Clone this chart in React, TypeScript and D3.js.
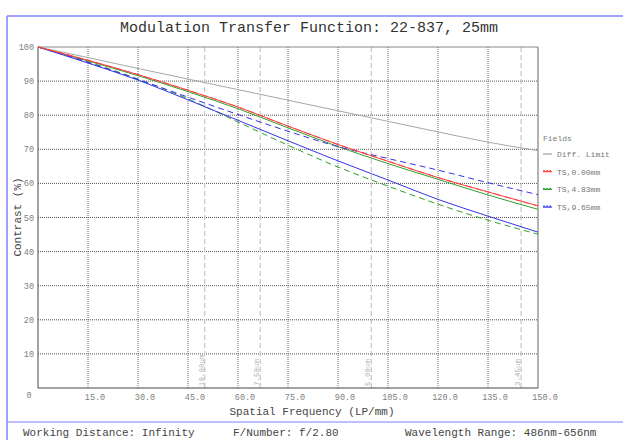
import * as d3 from "d3";

const freqs = [0, 15, 30, 45, 60, 75, 90, 105, 120, 135, 150];
const diffLimit = [100, 96.9, 93.7, 90.6, 87.5, 84.4, 81.3, 78.2, 75.1, 72.1, 69.6];
const tan000 = [100, 96.1, 91.9, 87.3, 82.4, 76.8, 71.4, 66.5, 61.7, 57.5, 53.4];
const sag000 = [100, 96.1, 91.9, 87.3, 82.4, 76.8, 71.4, 66.5, 61.7, 57.5, 53.4];
const tan483 = [100, 95.9, 91.6, 86.9, 81.9, 76.3, 70.8, 65.8, 61.2, 56.6, 52.4];
const sag483 = [100, 95.6, 90.6, 84.8, 78.0, 71.2, 64.8, 59.2, 53.9, 49.2, 45.1];
const tan965 = [100, 95.3, 90.3, 84.5, 78.5, 72.5, 66.6, 61.0, 55.3, 50.4, 45.7];
const sag965 = [100, 95.5, 90.5, 85.3, 80.2, 75.3, 70.8, 67.3, 63.9, 60.2, 56.7];

const xTicks = [15, 30, 45, 60, 75, 90, 105, 120, 135, 150];
const yTicks = [10, 20, 30, 40, 50, 60, 70, 80, 90, 100];
const nyquist = [
  { f: 50, label: "10.00um" },
  { f: 66.67, label: "7.50um" },
  { f: 100, label: "5.00um" },
  { f: 144.93, label: "3.45um" },
];
const legendItems = [
  { label: "Diff. Limit", color: "#a0a0a0" },
  { label: "TS,0.00mm", color: "#ff4040" },
  { label: "TS,4.83mm", color: "#30a030" },
  { label: "TS,9.65mm", color: "#3535e8" },
];

const FONT = "'Liberation Mono', 'DejaVu Sans Mono', monospace";

export default function App() {
  const left = 38, right = 538, top = 47, bottom = 388;
  const x = d3.scaleLinear().domain([0, 150]).range([left, right]);
  const y = d3.scaleLinear().domain([0, 100]).range([bottom, top]);

  const line = d3
    .line<number>()
    .x((_, i) => x(freqs[i]))
    .y((d) => y(d))
    .curve(d3.curveMonotoneX);

  const series = [
    { data: diffLimit, color: "#a8a8a8", dash: null },
    { data: tan483, color: "#30a030", dash: null },
    { data: sag483, color: "#30a030", dash: "6,4" },
    { data: tan965, color: "#3535e8", dash: null },
    { data: sag965, color: "#3535e8", dash: "6,4" },
    { data: tan000, color: "#ff4040", dash: null },
    { data: sag000, color: "#ff4040", dash: "6,4" },
  ];

  return (
    <svg
      width={623}
      height={440}
      style={{ position: "absolute", left: 0, top: 0, background: "#fff" }}
      fontFamily={FONT}
    >
      {/* frame */}
      <line x1={7} x2={623} y1={16} y2={16} stroke="#8080ff" strokeWidth={1.5} />
      <line x1={7} x2={7} y1={16} y2={440} stroke="#8080ff" strokeWidth={1.5} />
      <line x1={7} x2={623} y1={422} y2={422} stroke="#8080ff" strokeWidth={1.2} />

      <text x={309} y={32} textAnchor="middle" fontSize={15} fill="#333">
        Modulation Transfer Function: 22-837, 25mm
      </text>

      {/* horizontal grid */}
      {yTicks.slice(0, -1).map((t) => (
        <line key={"h" + t} x1={left} x2={right} y1={y(t)} y2={y(t)} stroke="#555" strokeDasharray="1,1" />
      ))}
      {/* vertical grid */}
      {xTicks.slice(0, -1).map((t) => (
        <line key={"v" + t} x1={x(t)} x2={x(t)} y1={top} y2={bottom} stroke="#666" strokeDasharray="1,1" />
      ))}
      {/* nyquist */}
      {nyquist.map((n) => (
        <g key={n.label}>
          <line x1={x(n.f)} x2={x(n.f)} y1={top} y2={bottom} stroke="#c4c4c4" strokeWidth={1.2} strokeDasharray="5,3" />
          <text
            transform={`translate(${x(n.f) - 1},${bottom - 2}) rotate(-90)`}
            fontSize={7.5}
            fill="#b4b4b4"
          >
            {n.label}
          </text>
        </g>
      ))}

      {/* border */}
      <line x1={left} x2={right} y1={top} y2={top} stroke="#888" />
      <line x1={right} x2={right} y1={top} y2={bottom} stroke="#666" />
      <line x1={left} x2={left} y1={top} y2={bottom} stroke="#444" />
      <line x1={left} x2={right} y1={bottom} y2={bottom} stroke="#444" />

      {/* curves */}
      {series.map((s, i) => (
        <path
          key={i}
          d={line(s.data) || ""}
          fill="none"
          stroke={s.color}
          strokeWidth={1}
          strokeDasharray={s.dash || undefined}
        />
      ))}

      {/* y ticks */}
      {yTicks.map((t) => (
        <text key={"yt" + t} x={34} y={y(t) + 3} textAnchor="end" fontSize={8.5} fill="#808080">
          {t}
        </text>
      ))}
      <text x={29} y={398} textAnchor="middle" fontSize={8.5} fill="#808080">0</text>
      {/* x ticks */}
      {xTicks.map((t) => (
        <text key={"xt" + t} x={x(t) + 7} y={400} textAnchor="middle" fontSize={8.5} fill="#808080">
          {t.toFixed(1)}
        </text>
      ))}

      <text transform="translate(21,217) rotate(-90)" textAnchor="middle" fontSize={11} fill="#444">
        Contrast (%)
      </text>
      <text x={312} y={415} textAnchor="middle" fontSize={11} fill="#444">
        Spatial Frequency (LP/mm)
      </text>

      {/* legend */}
      <text x={543} y={141} fontSize={8} fill="#777">Fields</text>
      {legendItems.map((it, i) => {
        const ly = 154 + i * 17.7;
        return (
          <g key={it.label}>
            <line x1={543} x2={552} y1={ly} y2={ly} stroke={it.color} strokeWidth={1.2} />
            {i > 0 && (
              <line x1={543} x2={552} y1={ly - 1} y2={ly - 1} stroke={it.color} strokeWidth={1} strokeDasharray="2,1" />
            )}
            <text x={557} y={ly + 3} fontSize={8} fill="#777">{it.label}</text>
          </g>
        );
      })}

      {/* footer */}
      <text x={23} y={436} fontSize={11} fill="#444">Working Distance: Infinity</text>
      <text x={233} y={436} fontSize={11} fill="#444">F/Number: f/2.80</text>
      <text x={405} y={436} fontSize={11} fill="#444">Wavelength Range: 486nm-656nm</text>
    </svg>
  );
}
